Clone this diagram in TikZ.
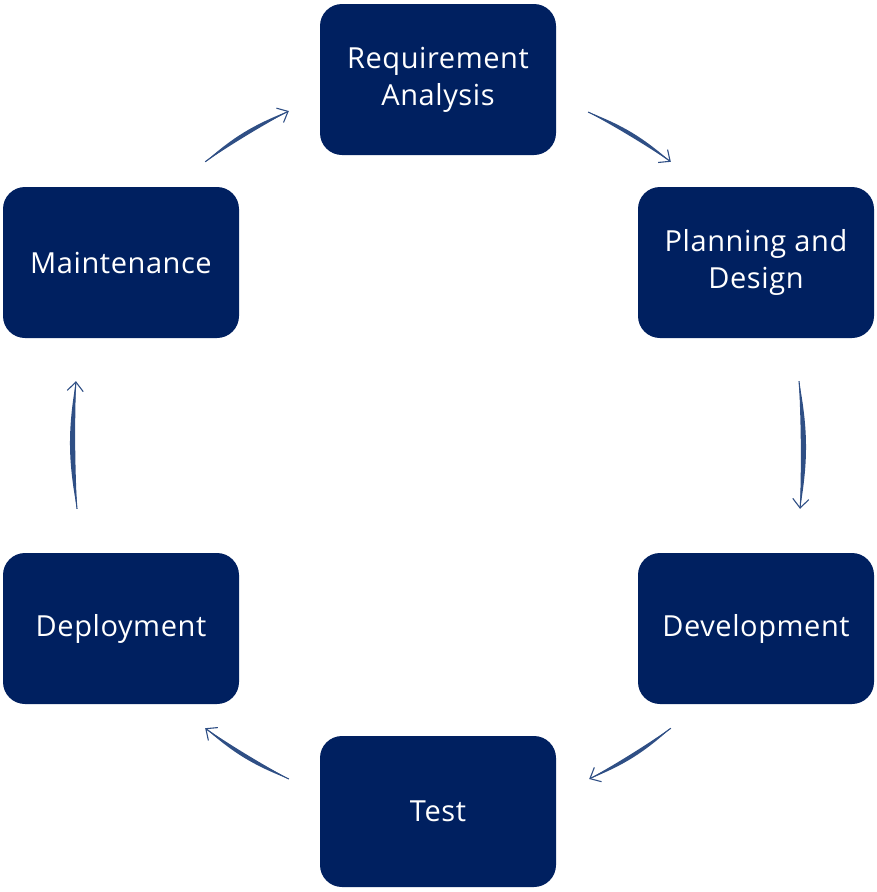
\documentclass[tikz,border=0pt]{standalone}
\usepackage{fontspec}
\setmainfont{Open Sans}[LetterSpace=2]
\usetikzlibrary{arrows.meta,positioning,calc}
\definecolor{boxnavy}{HTML}{002060}
\definecolor{arrblue}{HTML}{2F4F85}

\begin{document}
\begin{tikzpicture}[x=1pt,y=-1pt,
  stage/.style={fill=boxnavy,rounded corners=22pt,minimum width=236pt,minimum height=151pt,
    text=white,align=center,font=\fontsize{29}{37}\selectfont,inner sep=0pt},
  sketch/.style={draw=arrblue,line width=1.1pt,-{Straight Barb[length=9pt,width=16pt,line width=1.1pt]}}]
  \useasboundingbox (0,0) rectangle (877,892); % 余白を含む全体の大きさ
  \node[stage] (req) at (438,79.5) {Requirement\\Analysis}; % 上
  \node[stage] (plan) at (756,262.5) {Planning and\\Design}; % 右上
  \node[stage] (dev) at (756,628.5) {Development}; % 右下
  \node[stage] (test) at (438,811.5) {Test}; % 下
  \node[stage] (dep) at (121,628.5) {Deployment}; % 左下
  \node[stage] (maint) at (121,262.5) {Maintenance}; % 左上
  % 矢印の始点と終点
  \coordinate (s1) at ($(maint.north east)+(-34,-25)$);
  \coordinate (e1) at ($(req.west)+(-31,31.5)$);
  \coordinate (s2) at ($(req.east)+(32,32.5)$);
  \coordinate (e2) at ($(plan.north west)+(33,-25)$);
  \coordinate (s3) at ($(plan.south)+(43,43)$);
  \coordinate (e3) at ($(dev.north)+(44,-44)$);
  \coordinate (s4) at ($(dev.south west)+(33,24)$);
  \coordinate (e4) at ($(test.east)+(33,-32.5)$);
  \coordinate (s5) at ($(test.west)+(-31,-32.5)$);
  \coordinate (e5) at ($(dep.south east)+(-34,24)$);
  \coordinate (s6) at ($(dep.north)+(-44,-44)$);
  \coordinate (e6) at ($(maint.south)+(-45,43)$);
  % 手描き風の矢印（三日月形の塗りと線）
  \foreach \i in {1,...,6}{
    \fill[arrblue] (s\i) to[bend left=10] (e\i) to[bend right=2] (s\i);
    \draw[sketch] (s\i) to[bend left=5] (e\i);
  }
\end{tikzpicture}
\end{document}
